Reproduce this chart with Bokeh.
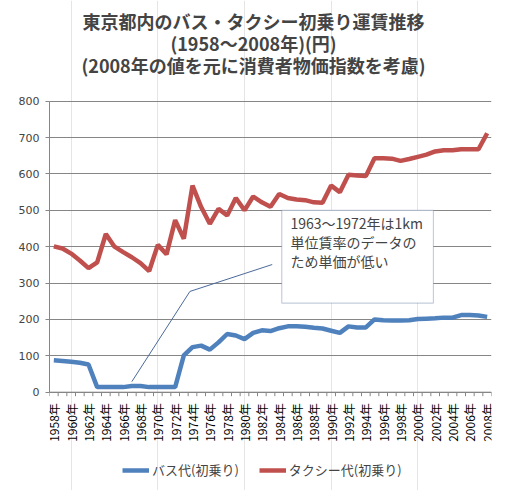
import math
from bokeh.plotting import figure
from bokeh.models import (FixedTicker, Legend, LegendItem, BoxAnnotation, Label,
                          ColumnDataSource, Range1d, Span)
from bokeh.core.properties import value
from bokeh.embed import file_html
from bokeh.resources import INLINE

years = list(range(1958, 2009))
bus = [88, 86, 84, 81, 76, 14, 14, 14, 14, 17, 17, 14,
       14, 14, 14, 101, 124, 128, 117, 137, 160, 156,
       146, 163, 170, 168, 176, 181, 181, 180, 177, 175,
       169, 163, 181, 178, 178, 200, 198, 197, 197, 198,
       201, 202, 203, 205, 205, 212, 212, 211, 207]
taxi = [401, 395, 381, 362, 341, 357, 435, 400, 385, 371, 355, 333,
        405, 379, 473, 422, 568, 509, 463, 504, 486, 534,
        500, 538, 522, 510, 545, 534, 530, 528, 522, 521,
        568, 550, 598, 596, 594, 643, 643, 642, 636, 641,
        647, 653, 662, 665, 665, 668, 668, 668, 712]
series_names = ["バス代(初乗り)", "タクシー代(初乗り)"]
label_years = years[::2]
year_labels = [f"{y}年" for y in label_years]
y_ticks = list(range(0, 801, 100))
title_lines = ["東京都内のバス・タクシー初乗り運賃推移",
               "(1958～2008年)(円)",
               "(2008年の値を元に消費者物価指数を考慮)"]
note_text = "1963～1972年は1km\n単位賃率のデータの\nため単価が低い"

JP = "Noto Sans CJK JP"
GRID = "#868686"

# layout (pixels): value axis spans 291 px; the frame also holds title and legend rows
FRAME_W, FRAME_H = 442, 490
AXIS_TOP, AXIS_BOTTOM = 100.7, 391.7
ppu = (AXIS_BOTTOM - AXIS_TOP) / 800.0
y_lo = -(FRAME_H - AXIS_BOTTOM) / ppu
y_hi = 800 + AXIS_TOP / ppu

src = ColumnDataSource(dict(year=years, bus=bus, taxi=taxi))
lab = ColumnDataSource(dict(x=label_years, text=year_labels))

p = figure(frame_width=FRAME_W, frame_height=FRAME_H,
           x_range=Range1d(years[0] - 0.5, years[-1] + 0.5),
           y_range=Range1d(y_lo, y_hi),
           x_axis_location=None,
           output_backend="svg", toolbar_location=None,
           min_border_left=49, min_border_right=9,
           min_border_top=0, min_border_bottom=0)

p.outline_line_color = None
p.ygrid.grid_line_color = GRID
p.ygrid.ticker = FixedTicker(ticks=y_ticks)
p.ygrid.bounds = (0, 800)

ya = p.yaxis[0]
ya.ticker = FixedTicker(ticks=y_ticks)
ya.bounds = (0, 800)
ya.major_tick_out = 4
ya.major_tick_in = 0
ya.major_tick_line_color = GRID
ya.minor_tick_line_color = None
ya.axis_line_color = GRID
ya.major_label_text_font = "DejaVu Sans"
ya.major_label_text_font_size = "11px"
ya.major_label_standoff = 6

# category axis at value 0: line, boundary ticks, rotated year labels
p.add_layout(Span(location=0, dimension="width", line_color=GRID, line_width=1))
bounds_x = [y - 0.5 for y in years] + [years[-1] + 0.5]
tick_len = 4 / ppu
p.segment(x0=bounds_x, y0=[0] * len(bounds_x), x1=bounds_x, y1=[-tick_len] * len(bounds_x),
          line_color=GRID, line_width=1)
p.text(x="x", y=0, text="text", source=lab, angle=math.pi / 2,
       text_align="right", text_baseline="middle", y_offset=11,
       text_font=value(JP), text_font_size="12px", text_color="black")

# title lines (centred, inside the top band)
x_mid = years[0] - 0.5 + (253 - 49) / (FRAME_W / len(years))
for txt, py in zip(title_lines, [20, 42, 64]):
    p.add_layout(Label(x=x_mid, y=(AXIS_BOTTOM - py) / ppu, text=txt,
                       text_font=JP, text_font_size="18px", text_font_style="bold",
                       text_align="center", text_baseline="middle"))

# callout leader and box
p.line(x=[1967.0, 1973.7, 1983.2], y=[29, 277, 351], line_color="#4a6a9a", line_width=1)
p.add_layout(BoxAnnotation(left=1984.3, right=2001.8, bottom=245, top=500,
                           fill_color="white", fill_alpha=1.0,
                           line_color="#3b5b8c", line_width=1.2, level="annotation"))
p.add_layout(Label(x=1985.3, y=493, text=note_text, text_font=JP,
                   text_font_size="14px", text_baseline="top", text_align="left",
                   text_line_height=0.95, level="annotation"))

r_bus = p.line("year", "bus", source=src, line_color="#4f81bd", line_width=4.5)
r_taxi = p.line("year", "taxi", source=src, line_color="#c0504d", line_width=4.5)

legend = Legend(items=[LegendItem(label=series_names[0], renderers=[r_bus]),
                       LegendItem(label=series_names[1], renderers=[r_taxi])],
                orientation="horizontal", location=(73, 11),
                label_text_font=JP, label_text_font_size="13px",
                glyph_width=27, glyph_height=16, label_standoff=3, spacing=20,
                padding=6, margin=0, border_line_color=None,
                background_fill_alpha=0)
p.add_layout(legend, "center")

open("out.html", "w").write(file_html(p, INLINE))
